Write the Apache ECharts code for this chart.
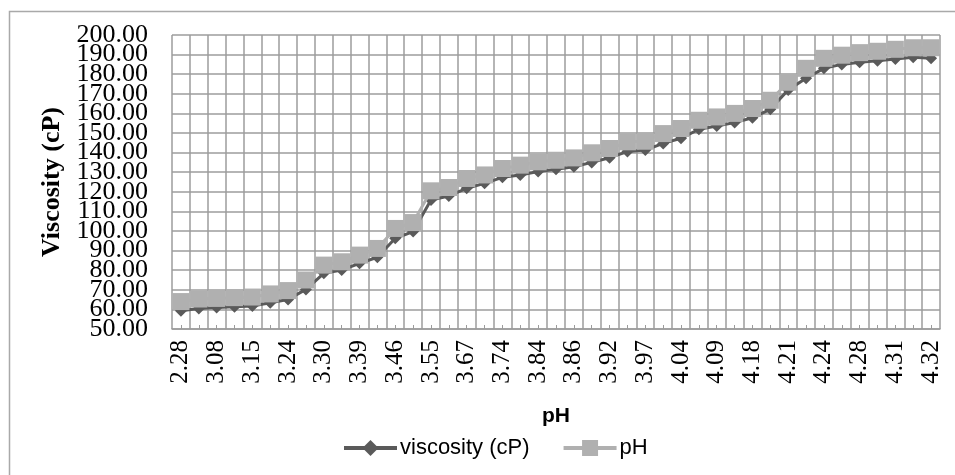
<!DOCTYPE html>
<html>
<head>
<meta charset="utf-8">
<script src="https://cdn.jsdelivr.net/npm/echarts@6/dist/echarts.min.js"></script>
<style>
  html, body { margin: 0; padding: 0; background: #fff; }
  #chart { width: 955px; height: 475px; }
</style>
</head>
<body>
<div id="chart"></div>
<script>
// pH categories (every other one is labelled on the axis)
const phCategories = [
  '2.28', '3.04', '3.08', '3.12', '3.15', '3.20', '3.24', '3.27', '3.30', '3.35',
  '3.39', '3.43', '3.46', '3.50', '3.55', '3.61', '3.67', '3.70', '3.74', '3.80',
  '3.84', '3.85', '3.86', '3.89', '3.92', '3.95', '3.97', '4.00', '4.04', '4.07',
  '4.09', '4.14', '4.18', '4.20', '4.21', '4.22', '4.24', '4.26', '4.28', '4.30',
  '4.31', '4.31', '4.32'
];

// viscosity (cP) series
const viscosityValues = [
  59.3, 60.5, 61.0, 61.4, 61.7, 63.4, 65.1, 70.2, 78.4, 80.1,
  83.5, 86.6, 96.3, 99.7, 115.8, 117.9, 121.8, 124.3, 127.4, 128.6,
  130.3, 131.5, 132.8, 135.0, 137.4, 140.5, 141.3, 144.7, 147.3, 151.9,
  153.6, 155.3, 157.8, 162.1, 172.0, 177.9, 183.0, 185.0, 186.1, 186.9,
  187.8, 188.6, 188.1
];

// pH series
const phValues = [
  64.0, 65.3, 65.6, 66.0, 66.3, 67.9, 69.6, 75.0, 82.6, 84.3,
  87.7, 91.1, 101.3, 104.3, 120.5, 122.2, 126.8, 128.6, 131.9, 133.6,
  135.3, 136.1, 137.3, 139.9, 142.1, 145.5, 145.8, 149.7, 152.3, 156.5,
  158.2, 160.0, 162.5, 166.7, 175.9, 183.0, 188.1, 189.7, 191.0, 191.7,
  192.7, 193.5, 193.5
];

const yMin = 50, yMax = 200, yStep = 10;

const gridColor = '#9c9c9c';
const darkGray = '#5a5a5a';
const lightGray = '#b0b0b0';

const yLabelStyle = {
  margin: 24,
  fontFamily: 'Liberation Serif',
  fontSize: 26,
  color: '#000',
  lineHeight: 20
};

const chart = echarts.init(document.getElementById('chart'), null, { renderer: 'canvas' });

chart.setOption({
  backgroundColor: '#fff',
  animation: false,
  graphic: [{
    type: 'rect',
    shape: { x: 9.5, y: 11.5, width: 960, height: 480 },
    style: { fill: 'none', stroke: '#a9a9a9', lineWidth: 1.5 },
    z: -10
  }],
  grid: { left: 172, right: 15, top: 35, bottom: 146 },
  legend: {
    left: 337,
    top: 432,
    itemWidth: 53,
    itemHeight: 20,
    itemGap: 32,
    lineStyle: { width: 4 },
    textStyle: { fontFamily: 'Liberation Sans', fontSize: 22, color: '#000', padding: [0, 0, 0, -2] },
    data: ['viscosity (cP)', 'pH']
  },
  xAxis: {
    type: 'category',
    data: phCategories,
    boundaryGap: true,
    name: 'pH',
    nameLocation: 'middle',
    nameGap: 77,
    nameTextStyle: { fontFamily: 'Liberation Sans', fontWeight: 'bold', fontSize: 21, color: '#000' },
    axisLine: { show: true, lineStyle: { color: gridColor, width: 1.5 } },
    axisTick: { show: true, inside: true, alignWithLabel: true, interval: 0, length: 4, lineStyle: { color: gridColor } },
    axisLabel: {
      interval: 1,
      rotate: 90,
      margin: 11,
      fontFamily: 'Liberation Serif',
      fontSize: 25,
      color: '#000'
    },
    splitLine: { show: true, interval: 0, lineStyle: { color: gridColor, width: 1.5 } }
  },
  yAxis: [
    {
      // main value axis: gridlines and the inner tick labels
      type: 'value',
      min: yMin,
      max: yMax,
      interval: yStep,
      name: 'Viscosity (cP)',
      nameLocation: 'middle',
      nameGap: 101,
      nameTextStyle: { fontFamily: 'Liberation Serif', fontWeight: 'bold', fontSize: 26, color: '#000' },
      axisLine: { show: false },
      axisTick: { show: false },
      axisLabel: Object.assign({}, yLabelStyle, {
        showMinLabel: false,
        showMaxLabel: false,
        formatter: v => v.toFixed(2)
      }),
      splitLine: { show: true, lineStyle: { color: gridColor, width: 1.5 } }
    },
    {
      // companion axis carrying the end labels (min and max)
      type: 'value',
      position: 'left',
      min: yMin,
      max: yMax,
      interval: yStep,
      axisLine: { show: false },
      axisTick: { show: false },
      splitLine: { show: false },
      axisLabel: Object.assign({}, yLabelStyle, {
        showMinLabel: true,
        showMaxLabel: true,
        formatter: v => (v === yMin || v === yMax) ? v.toFixed(2) : ''
      })
    }
  ],
  series: [
    {
      name: 'viscosity (cP)',
      type: 'line',
      data: viscosityValues,
      symbol: 'diamond',
      symbolSize: 12,
      showAllSymbol: true,
      itemStyle: { color: darkGray },
      lineStyle: { color: darkGray, width: 3 },
      z: 2
    },
    {
      name: 'pH',
      type: 'line',
      data: phValues,
      symbol: 'rect',
      symbolSize: 17,
      showAllSymbol: true,
      itemStyle: { color: lightGray },
      lineStyle: { color: lightGray, width: 3 },
      z: 3
    }
  ]
});
</script>
</body>
</html>
